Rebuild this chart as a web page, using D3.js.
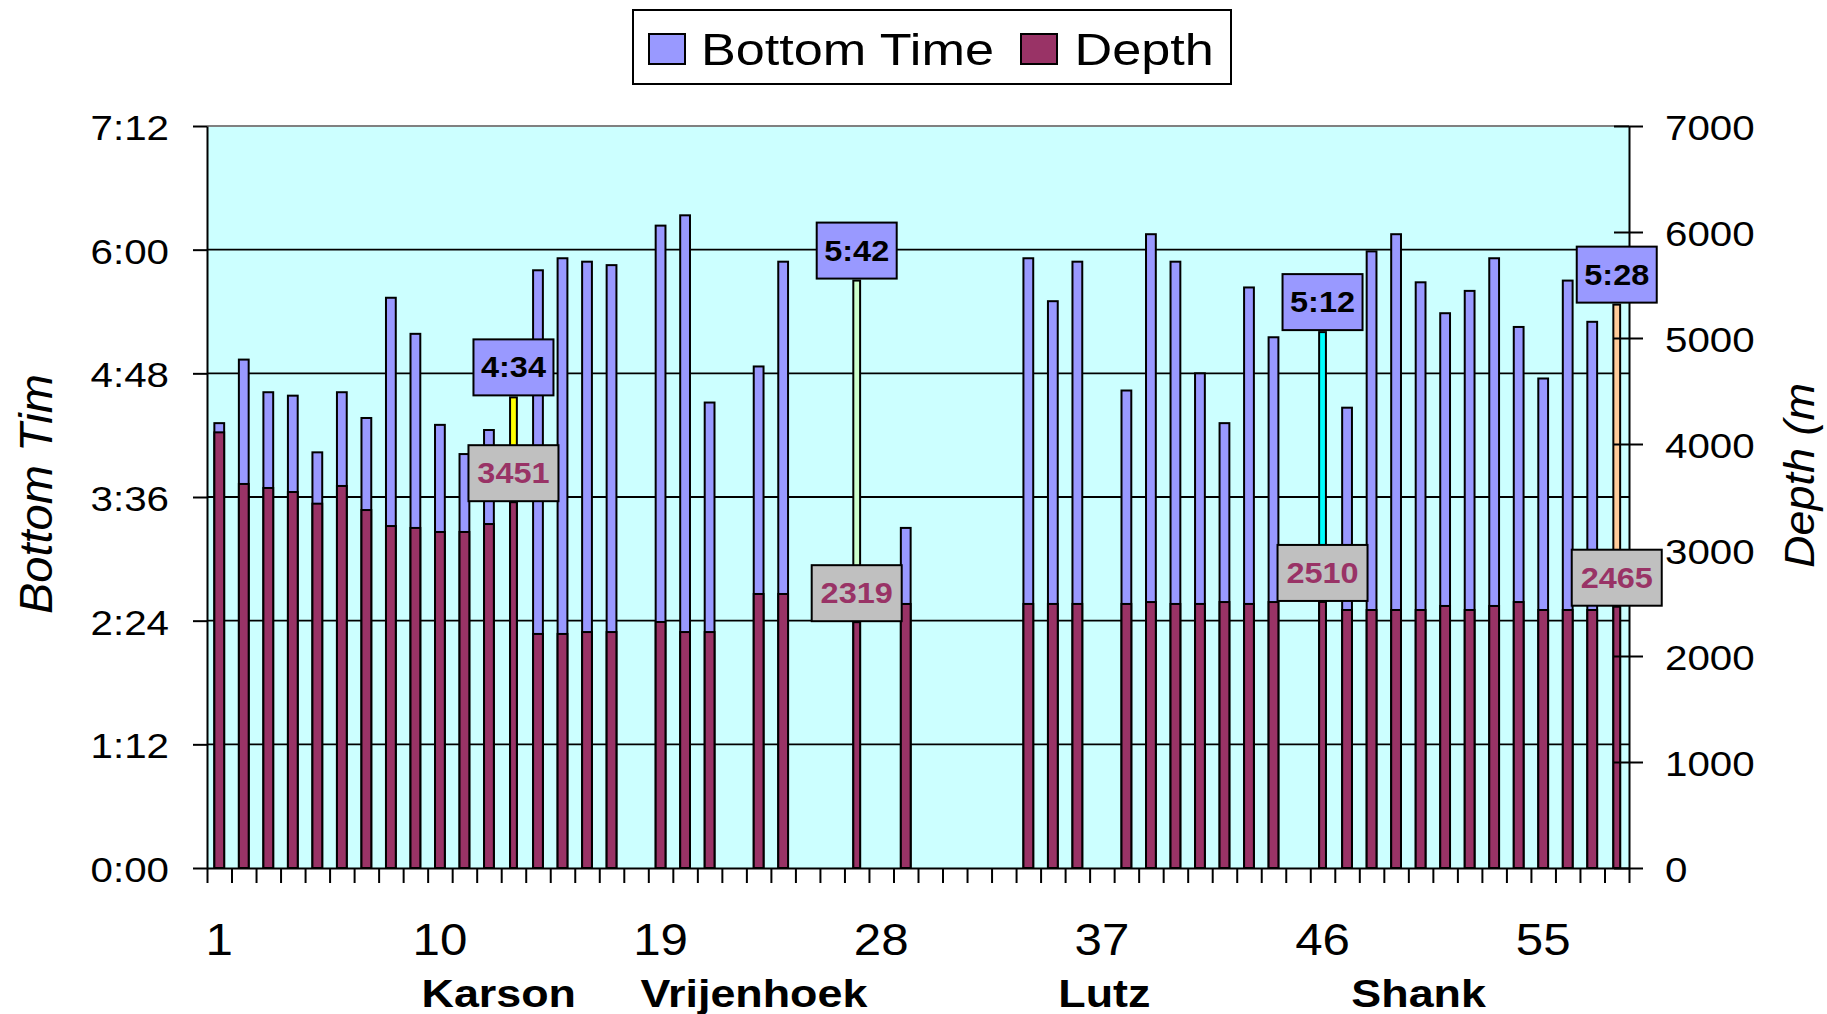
<!DOCTYPE html>
<html><head><meta charset="utf-8">
<script src="https://cdn.jsdelivr.net/npm/d3@7"></script>
<style>
body{margin:0;background:#fff;}
svg{display:block;}
text{font-family:"Liberation Sans",Arial,sans-serif;}
</style>
</head><body>
<svg id="c" width="1827" height="1014"></svg>
<script>
// ---------- DATA ----------
const categories = d3.range(1, 59).map(String);
// bottom time in minutes (null = no dive)
const bottomTime = [259,296,277,275,242,277,262,332,311,258,241,255,274,348,355,353,351,null,374,380,271,null,292,353,null,null,342,null,198,null,null,null,null,355,330,353,null,278,369,353,288,259,338,309,null,312,268,359,369,341,323,336,355,315,285,342,318,328];
// depth in metres
const depth = [4110,3623,3585,3547,3437,3604,3377,3226,3208,3170,3170,3245,3451,2208,2208,2226,2226,null,2321,2226,2226,null,2585,2585,null,null,2319,null,2491,null,null,null,null,2491,2491,2491,null,2491,2509,2491,2491,2509,2491,2509,null,2510,2434,2434,2434,2434,2472,2434,2472,2509,2434,2434,2434,2465];
const highlightCats = ['13','27','46','58'];
const highlightColors = ['#FFFF00','#CCFFCC','#00FFFF','#FFCC99'];
const timeTicks = [0,72,144,216,288,360,432];
const depthTicks = [0,1000,2000,3000,4000,5000,6000,7000];
const xLabelCats = ['1','10','19','28','37','46','55'];
const groupNames = ['Karson','Vrijenhoek','Lutz','Shank'];
const seriesNames = ['Bottom Time','Depth'];

// ---------- LAYOUT ----------
const L = 207, R = 1629, T = 126, B = 868;
const SX = 1.12;
const groupLabelPos = [11.9, 22.31, 36.6, 49.42];
const colBlue = '#9999FF', colMaroon = '#993366', colBg = '#CCFFFF';

const svg = d3.select('#c');
const x = d3.scaleBand().domain(categories).range([L, R]).padding(0);
const xLin = d3.scaleLinear().domain([0, 58]).range([L, R]);
const yT = d3.scaleLinear().domain([0, 432]).range([B, T]);
const yD = d3.scaleLinear().domain([0, 7000]).range([B, T]);
const fmtTime = m => Math.floor(m / 60) + ':' + String(m % 60).padStart(2, '0');

function txt(parent, px, py, s, o) {
  const sx = o.sx == null ? SX : o.sx;
  return parent.append('text')
    .attr('transform', `translate(${px},${py}) scale(${sx},1)` + (o.rotate ? ` rotate(${o.rotate})` : ''))
    .attr('font-size', o.size)
    .attr('font-weight', o.weight || 'normal')
    .attr('font-style', o.style || 'normal')
    .attr('text-anchor', o.anchor || 'start')
    .attr('fill', o.fill || '#000')
    .text(s);
}

// plot background
svg.append('rect').attr('x', L).attr('y', T).attr('width', R - L).attr('height', B - T).attr('fill', colBg);

// gridlines
svg.append('g').selectAll('line').data(timeTicks.filter(t => t > 0 && t < 432)).join('line')
  .attr('x1', L).attr('x2', R).attr('y1', d => yT(d)).attr('y2', d => yT(d))
  .attr('stroke', '#000').attr('stroke-width', 1.8);
svg.append('line').attr('x1', L).attr('x2', R).attr('y1', T).attr('y2', T).attr('stroke', '#808080').attr('stroke-width', 2);

const hiIdx = c => highlightCats.indexOf(c);
const bw = c => hiIdx(c) >= 0 ? 6.8 : 9.8;

// Bottom time bars
const rows = categories.map((c, i) => ({c, t: bottomTime[i], d: depth[i]}));
svg.append('g').selectAll('rect').data(rows.filter(r => r.t != null)).join('rect')
  .attr('x', r => x(r.c) + x.bandwidth() / 2 - bw(r.c) / 2)
  .attr('width', r => bw(r.c))
  .attr('y', r => yT(r.t))
  .attr('height', r => B - yT(r.t))
  .attr('fill', r => hiIdx(r.c) >= 0 ? highlightColors[hiIdx(r.c)] : colBlue)
  .attr('stroke', '#000').attr('stroke-width', 2);

// Depth bars
svg.append('g').selectAll('rect').data(rows.filter(r => r.d != null)).join('rect')
  .attr('x', r => x(r.c) + x.bandwidth() / 2 - bw(r.c) / 2)
  .attr('width', r => bw(r.c))
  .attr('y', r => yD(r.d))
  .attr('height', r => B - yD(r.d))
  .attr('fill', colMaroon)
  .attr('stroke', '#000').attr('stroke-width', 2);

// Left axis
const gl = svg.append('g').attr('transform', `translate(${L},0)`)
  .call(d3.axisLeft(yT).tickValues(timeTicks).tickFormat(fmtTime).tickSize(14).tickSizeOuter(0));
gl.selectAll('path,line').attr('stroke', '#000').attr('stroke-width', 2);
gl.selectAll('text').attr('x', null).attr('dy', null).attr('font-size', 36).attr('font-family', null)
  .attr('text-anchor', 'end').attr('fill', '#000')
  .attr('transform', `translate(-38,13.5) scale(${SX},1)`);

// Right axis
const gr = svg.append('g').attr('transform', `translate(${R},0)`)
  .call(d3.axisRight(yD).tickValues(depthTicks).tickFormat(d3.format('d')).tickSize(14).tickSizeOuter(0));
gr.selectAll('path,line').attr('stroke', '#000').attr('stroke-width', 2);
gr.selectAll('.tick line').attr('x1', -15);
gr.selectAll('text').attr('x', null).attr('dy', null).attr('font-size', 36).attr('font-family', null)
  .attr('text-anchor', 'start').attr('fill', '#000')
  .attr('transform', `translate(36,13.5) scale(${SX},1)`);

// Bottom axis: boundary ticks
const gb = svg.append('g').attr('transform', `translate(0,${B})`)
  .call(d3.axisBottom(xLin).tickValues(d3.range(0, 59)).tickFormat(() => '').tickSize(15).tickSizeOuter(0));
gb.selectAll('path,line').attr('stroke', '#000').attr('stroke-width', 2);

// Bottom axis: category labels
const gc = svg.append('g').attr('transform', `translate(0,${B})`)
  .call(d3.axisBottom(x).tickValues(xLabelCats).tickSize(0));
gc.select('.domain').remove();
gc.selectAll('text').attr('y', null).attr('dy', null).attr('font-size', 44).attr('font-family', null)
  .attr('fill', '#000').attr('transform', `translate(0,87) scale(${SX},1)`);

// Group labels
groupNames.forEach((g, i) => txt(svg, xLin(groupLabelPos[i]), 1006.5, g, {size: 39, weight: 'bold', anchor: 'middle', sx: 1.15}));

// Axis titles
txt(svg, 52, 614, 'Bottom Tim', {size: 47, style: 'italic', sx: 1, rotate: -90});
txt(svg, 1814, 568, 'Depth (m', {size: 45, style: 'italic', sx: 0.95, rotate: -90});

// Data labels for highlighted dives
highlightCats.forEach(c => {
  const i = categories.indexOf(c);
  const cx = x(c) + x.bandwidth() / 2;
  const tw = 80, th = 56;
  const ty = yT(bottomTime[i]) - 2 - th;
  svg.append('rect').attr('x', cx - tw / 2).attr('y', ty).attr('width', tw).attr('height', th)
    .attr('fill', colBlue).attr('stroke', '#000').attr('stroke-width', 2);
  txt(svg, cx, ty + th / 2 + 10, fmtTime(bottomTime[i]), {size: 29, weight: 'bold', anchor: 'middle'});
  const dw = 90, dh = 56;
  const dy = yD(depth[i]) - 1 - dh;
  svg.append('rect').attr('x', cx - dw / 2).attr('y', dy).attr('width', dw).attr('height', dh)
    .attr('fill', '#C0C0C0').attr('stroke', '#000').attr('stroke-width', 2);
  txt(svg, cx, dy + dh / 2 + 10, String(depth[i]), {size: 29, weight: 'bold', anchor: 'middle', fill: colMaroon});
});

// Legend
const lg = svg.append('g');
lg.append('rect').attr('x', 633).attr('y', 10).attr('width', 598).attr('height', 74)
  .attr('fill', '#fff').attr('stroke', '#000').attr('stroke-width', 2);
const legX = [649, 1021], legTX = [701, 1074.5], legC = [colBlue, colMaroon];
seriesNames.forEach((s, i) => {
  lg.append('rect').attr('x', legX[i]).attr('y', 34).attr('width', 36).attr('height', 30)
    .attr('fill', legC[i]).attr('stroke', '#000').attr('stroke-width', 2);
  txt(lg, legTX[i], 64.5, s, {size: 45, sx: 1.16});
});
</script>
</body></html>
